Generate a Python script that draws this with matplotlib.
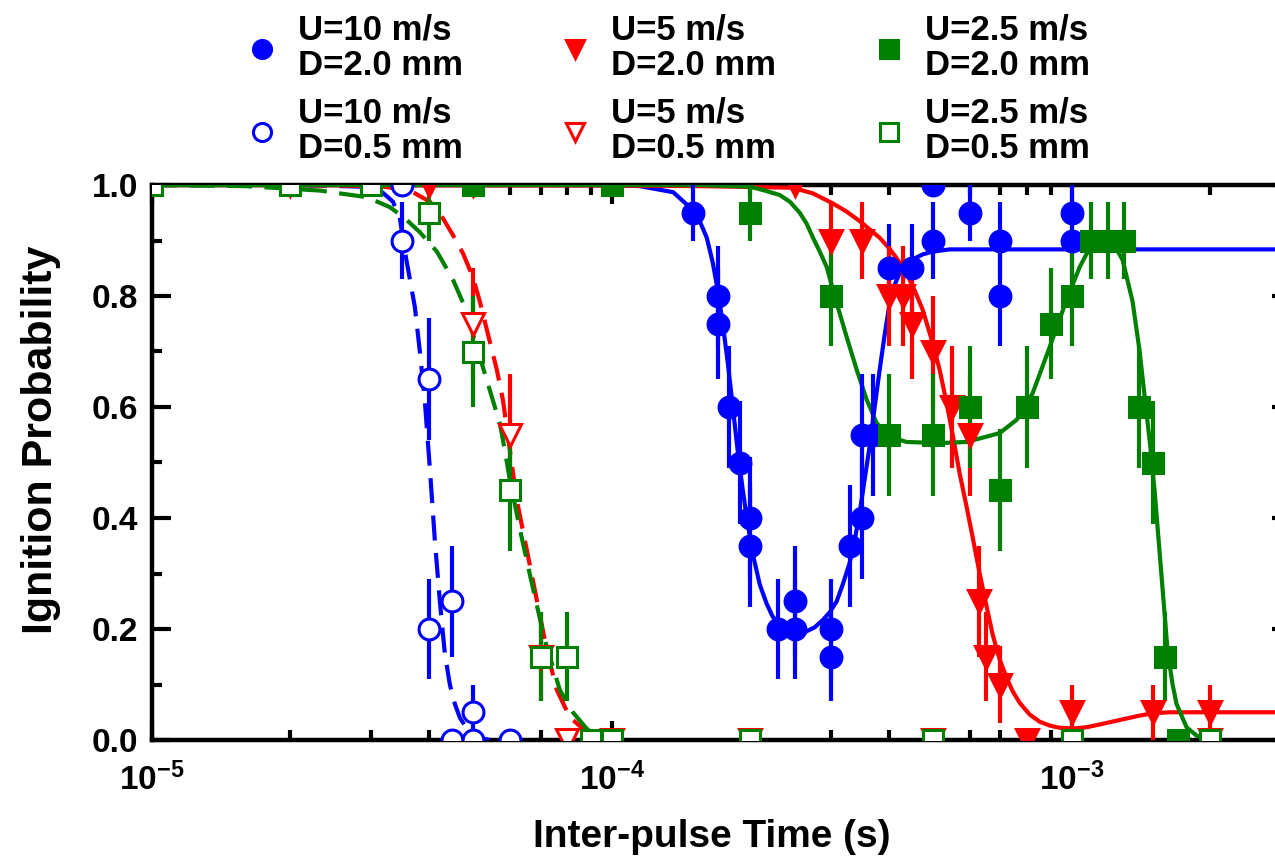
import numpy as np
import matplotlib.pyplot as plt
from matplotlib.lines import Line2D
from matplotlib.ticker import FixedLocator, NullFormatter, MultipleLocator

plt.rcParams['font.family'] = ['Liberation Sans', 'DejaVu Sans']
plt.rcParams['font.weight'] = 'bold'
plt.rcParams['mathtext.fontset'] = 'custom'
plt.rcParams['mathtext.rm'] = 'Liberation Sans:bold'
plt.rcParams['mathtext.bf'] = 'Liberation Sans:bold'

BLUE = '#0000ff'
RED = '#ff0000'
GREEN = '#008000'

# ============================================================
# measured points (inter-pulse time, probability, error)
# ============================================================
# U=10 m/s, D=2.0 mm
t_b20 = [1.5e-4, 1.7e-4, 1.7e-4, 1.8e-4, 1.9e-4, 2.0e-4, 2.0e-4, 2.3e-4, 2.5e-4, 2.5e-4,
         3.0e-4, 3.0e-4, 3.3e-4, 3.5e-4, 3.5e-4, 3.7e-4, 4.0e-4, 4.5e-4, 5.0e-4, 5.0e-4,
         6.0e-4, 7.0e-4, 7.0e-4, 1.0e-3, 1.0e-3]
p_b20 = [0.95, 0.80, 0.75, 0.60, 0.50, 0.40, 0.35, 0.20, 0.25, 0.20,
         0.20, 0.15, 0.35, 0.40, 0.55, 0.55, 0.85, 0.85, 0.90, 1.00,
         0.95, 0.90, 0.80, 0.95, 0.90]
e_b20 = [0.05, 0.09, 0.10, 0.11, 0.11, 0.11, 0.11, 0.09, 0.10, 0.09,
         0.09, 0.08, 0.11, 0.11, 0.11, 0.11, 0.08, 0.08, 0.07, 0.0,
         0.05, 0.07, 0.09, 0.05, 0.07]

# U=10 m/s, D=0.5 mm
t_b05 = [3.5e-5, 3.5e-5, 4.0e-5, 4.0e-5, 4.5e-5, 4.5e-5, 5.0e-5, 5.0e-5, 6.0e-5]
p_b05 = [1.0, 0.90, 0.65, 0.20, 0.25, 0.0, 0.05, 0.0, 0.0]
e_b05 = [0.0, 0.07, 0.11, 0.09, 0.10, 0.0, 0.05, 0.0, 0.0]

# U=5 m/s, D=2.0 mm
t_r20 = [2e-5, 4e-5, 5e-5, 2.5e-4, 3.0e-4, 3.5e-4, 4.0e-4, 4.3e-4, 4.5e-4, 5.0e-4,
         5.5e-4, 6.0e-4, 6.3e-4, 6.5e-4, 7.0e-4, 8.0e-4, 1.0e-3, 1.5e-3, 2.0e-3]
p_r20 = [1.0, 1.0, 1.0, 1.0, 0.90, 0.90, 0.80, 0.80, 0.75, 0.70,
         0.60, 0.55, 0.25, 0.15, 0.10, 0.0, 0.05, 0.05, 0.05]
e_r20 = [0.0, 0.0, 0.0, 0.0, 0.07, 0.07, 0.09, 0.09, 0.10, 0.10,
         0.11, 0.11, 0.10, 0.08, 0.07, 0.0, 0.05, 0.05, 0.05]

# U=5 m/s, D=0.5 mm
t_r05 = [5e-5, 6e-5, 7e-5, 8e-5, 1e-4, 2e-4, 5e-4, 2e-3]
p_r05 = [0.75, 0.55, 0.15, 0.0, 0.0, 0.0, 0.0, 0.0]
e_r05 = [0.10, 0.11, 0.08, 0.0, 0.0, 0.0, 0.0, 0.0]

# U=2.5 m/s, D=2.0 mm
t_g20 = [5e-5, 1e-4, 2e-4, 3e-4, 4e-4, 5e-4, 6e-4, 7e-4, 8e-4, 9e-4,
         1e-3, 1.1e-3, 1.2e-3, 1.3e-3, 1.4e-3, 1.5e-3, 1.6e-3, 1.7e-3]
p_g20 = [1.0, 1.0, 0.95, 0.80, 0.55, 0.55, 0.60, 0.45, 0.60, 0.75,
         0.80, 0.90, 0.90, 0.90, 0.60, 0.50, 0.15, 0.0]
e_g20 = [0.0, 0.0, 0.05, 0.09, 0.11, 0.11, 0.11, 0.11, 0.11, 0.10,
         0.09, 0.07, 0.07, 0.07, 0.11, 0.11, 0.08, 0.0]

# U=2.5 m/s, D=0.5 mm
t_g05 = [1e-5, 2e-5, 3e-5, 4e-5, 5e-5, 6e-5, 7e-5, 8e-5, 9e-5, 1e-4, 2e-4, 5e-4, 1e-3, 2e-3]
p_g05 = [1.0, 1.0, 1.0, 0.95, 0.70, 0.45, 0.15, 0.15, 0.0, 0.0, 0.0, 0.0, 0.0, 0.0]
e_g05 = [0.0, 0.0, 0.0, 0.05, 0.10, 0.11, 0.08, 0.08, 0.0, 0.0, 0.0, 0.0, 0.0, 0.0]

# ============================================================
# fitted curves
# ============================================================
tf_b20 = [1e-5, 1.0e-4, 1.15e-4, 1.36e-4, 1.500e-4, 1.553e-4, 1.609e-4, 1.658e-4, 1.700e-4,
          1.743e-4, 1.787e-4, 1.833e-4, 1.879e-4, 1.927e-4, 1.975e-4, 2.026e-4, 2.098e-4,
          2.173e-4, 2.239e-4, 2.342e-4, 2.438e-4, 2.563e-4, 2.654e-4, 2.762e-4, 2.875e-4,
          2.978e-4, 3.084e-4, 3.178e-4, 3.291e-4, 3.375e-4, 3.460e-4, 3.548e-4, 3.638e-4,
          3.730e-4, 3.824e-4, 3.921e-4, 4.020e-4, 4.122e-4, 4.227e-4, 4.378e-4, 4.511e-4,
          4.745e-4, 4.987e-4, 5.43e-4, 3e-3]
pf_b20 = [1.0, 1.0, 0.998, 0.987, 0.955, 0.935, 0.905, 0.86, 0.81,
          0.75, 0.68, 0.60, 0.52, 0.45, 0.39, 0.335, 0.28,
          0.245, 0.222, 0.205, 0.198, 0.195, 0.196, 0.203, 0.216,
          0.23, 0.25, 0.28, 0.319, 0.36, 0.41, 0.47, 0.53,
          0.60, 0.667, 0.73, 0.787, 0.82, 0.841, 0.857, 0.866,
          0.875, 0.880, 0.884, 0.884]

tf_b05 = [1e-5, 2.10e-5, 2.833e-5, 3.178e-5, 3.342e-5, 3.460e-5, 3.548e-5, 3.638e-5, 3.730e-5,
          3.824e-5, 3.921e-5, 4.020e-5, 4.122e-5, 4.227e-5, 4.335e-5, 4.444e-5, 4.557e-5,
          4.673e-5, 4.864e-5, 5.088e-5, 5.43e-5]
pf_b05 = [1.0, 1.0, 0.997, 0.986, 0.97, 0.94, 0.88, 0.83, 0.78,
          0.70, 0.61, 0.49, 0.36, 0.25, 0.155, 0.10, 0.065,
          0.04, 0.018, 0.005, 0.0]

tf_r20 = [1e-5, 9.42e-5, 1.553e-4, 2.475e-4, 2.735e-4, 3.022e-4, 3.242e-4, 3.460e-4, 3.638e-4,
          3.824e-4, 4.020e-4, 4.165e-4, 4.378e-4, 4.557e-4, 4.745e-4, 4.987e-4, 5.164e-4,
          5.349e-4, 5.512e-4, 5.709e-4, 5.911e-4, 6.093e-4, 6.310e-4, 6.535e-4, 6.734e-4,
          6.975e-4, 7.222e-4, 7.442e-4, 7.709e-4, 8.104e-4, 8.520e-4, 8.96e-4, 9.42e-4,
          1.015e-3, 1.078e-3, 1.151e-3, 1.272e-3, 1.406e-3, 1.500e-3, 1.634e-3, 1.778e-3, 3e-3]
pf_r20 = [1.0, 0.999, 0.998, 0.995, 0.985, 0.967, 0.952, 0.935, 0.92,
          0.905, 0.885, 0.868, 0.84, 0.81, 0.775, 0.715, 0.667,
          0.607, 0.55, 0.48, 0.42, 0.365, 0.30, 0.24, 0.19,
          0.145, 0.112, 0.088, 0.067, 0.046, 0.033, 0.026, 0.022,
          0.021, 0.023, 0.028, 0.036, 0.044, 0.048, 0.05, 0.05, 0.05]

tf_r05 = [1e-5, 2.1e-5, 3.130e-5, 3.638e-5, 4.020e-5, 4.292e-5, 4.511e-5, 4.745e-5, 4.987e-5,
          5.164e-5, 5.349e-5, 5.623e-5, 5.796e-5, 6.0e-5, 6.215e-5, 6.535e-5, 6.870e-5,
          7.222e-5, 7.593e-5, 8.104e-5, 8.826e-5, 9.42e-5, 1.041e-4]
pf_r05 = [1.0, 1.0, 0.998, 0.99, 0.97, 0.94, 0.91, 0.877, 0.834,
          0.79, 0.739, 0.667, 0.613, 0.523, 0.432, 0.342, 0.252,
          0.162, 0.09, 0.041, 0.014, 0.003, 0.0]

tf_g20 = [1e-5, 1.553e-4, 1.995e-4, 2.151e-4, 2.318e-4, 2.438e-4, 2.563e-4, 2.654e-4, 2.735e-4,
          2.833e-4, 2.934e-4, 3.084e-4, 3.242e-4, 3.409e-4, 3.584e-4, 3.768e-4, 4.020e-4,
          4.378e-4, 5.164e-4, 5.911e-4, 6.975e-4, 7.595e-4, 8.229e-4, 8.96e-4, 9.75e-4,
          1.041e-3, 1.094e-3, 1.151e-3, 1.186e-3, 1.228e-3, 1.291e-3, 1.357e-3, 1.406e-3,
          1.441e-3, 1.478e-3, 1.515e-3, 1.553e-3, 1.585e-3, 1.617e-3, 1.658e-3, 1.691e-3,
          1.778e-3, 1.869e-3, 1.995e-3]
pf_g20 = [1.0, 1.0, 0.997, 0.99, 0.982, 0.97, 0.95, 0.93, 0.906,
          0.88, 0.852, 0.787, 0.726, 0.667, 0.613, 0.571, 0.546,
          0.537, 0.535, 0.537, 0.553, 0.577, 0.625, 0.708, 0.793,
          0.852, 0.886, 0.897, 0.90, 0.897, 0.865, 0.79, 0.70,
          0.62, 0.54, 0.45, 0.34, 0.25, 0.16, 0.10, 0.065,
          0.023, 0.008, 0.0]

tf_g05 = [1e-5, 1.593e-5, 2.318e-5, 2.934e-5, 3.292e-5, 3.548e-5, 3.824e-5, 4.165e-5, 4.511e-5,
          4.792e-5, 5.037e-5, 5.43e-5, 5.709e-5, 5.80e-5, 6.0e-5, 6.31e-5, 6.668e-5,
          7.150e-5, 7.709e-5, 8.229e-5, 8.826e-5, 9.42e-5, 1.041e-4]
pf_g05 = [1.0, 0.998, 0.99, 0.978, 0.96, 0.94, 0.915, 0.88, 0.83,
          0.78, 0.72, 0.63, 0.57, 0.54, 0.47, 0.38, 0.29,
          0.18, 0.09, 0.05, 0.02, 0.005, 0.0]

labels = ['U=10 m/s\nD=2.0 mm', 'U=10 m/s\nD=0.5 mm',
          'U=5 m/s\nD=2.0 mm', 'U=5 m/s\nD=0.5 mm',
          'U=2.5 m/s\nD=2.0 mm', 'U=2.5 m/s\nD=0.5 mm']

# ============================================================
# figure
# ============================================================
fig = plt.figure(figsize=(12.75, 8.65), dpi=100)
ax = fig.add_axes([152 / 1275, 125 / 865, 1139 / 1275, 555 / 865])

LW = 3.0
dash = (0, (6, 3))

ax.plot(tf_b20, pf_b20, color=BLUE, lw=LW, zorder=3)
ax.plot(tf_b05, pf_b05, color=BLUE, lw=LW, ls=dash, zorder=3)
ax.plot(tf_r20, pf_r20, color=RED, lw=LW, zorder=3)
ax.plot(tf_r05, pf_r05, color=RED, lw=LW, ls=dash, zorder=3)
ax.plot(tf_g20, pf_g20, color=GREEN, lw=LW, zorder=3)
ax.plot(tf_g05, pf_g05, color=GREEN, lw=LW, ls=dash, zorder=3)

series = [
    (t_b20, p_b20, e_b20, 'o', BLUE, True, 15),
    (t_b05, p_b05, e_b05, 'o', BLUE, False, 15),
    (t_r20, p_r20, e_r20, 'v', RED, True, 16),
    (t_r05, p_r05, e_r05, 'v', RED, False, 16),
    (t_g20, p_g20, e_g20, 's', GREEN, True, 14),
    (t_g05, p_g05, e_g05, 's', GREEN, False, 14),
]
for t, p, e, m, c, filled, ms in series:
    ax.errorbar(t, p, yerr=e, fmt=m, color=c, ms=ms,
                mfc=c if filled else 'white', mec=c, mew=2.2,
                elinewidth=3, capsize=0, zorder=4)

ax.set_xscale('log')
ax.set_xlim(1e-5, 3e-3)
ax.set_ylim(0, 1.0)

ax.xaxis.set_major_locator(FixedLocator([1e-5, 1e-4, 1e-3]))
ax.set_xticklabels([r'$\mathbf{10^{-5}}$', r'$\mathbf{10^{-4}}$', r'$\mathbf{10^{-3}}$'])
minors = [k * 10.0 ** d for d in (-5, -4, -3) for k in range(2, 10)]
ax.xaxis.set_minor_locator(FixedLocator(minors))
ax.xaxis.set_minor_formatter(NullFormatter())
ax.yaxis.set_major_locator(MultipleLocator(0.2))
ax.yaxis.set_minor_locator(MultipleLocator(0.1))
ax.yaxis.set_major_formatter(plt.FuncFormatter(lambda v, _: f'{v:.1f}'))

ax.tick_params(which='both', direction='in', top=True, right=True, width=3)
ax.tick_params(which='major', length=14, labelsize=24)
ax.tick_params(axis='y', which='major', pad=10)
ax.tick_params(axis='x', which='major', pad=16)
ax.tick_params(which='minor', length=7)
for s in ax.spines.values():
    s.set_linewidth(3.2)

ax.set_xlabel('Inter-pulse Time (s)', fontsize=28, fontweight='bold')
ax.set_ylabel('Ignition Probability', fontsize=31, fontweight='bold')
ax.xaxis.set_label_coords(0.4917, -0.142)
ax.yaxis.set_label_coords(-0.080, 0.54)

# legend
handles = []
for t, p, e, m, c, filled, ms in series:
    handles.append(Line2D([], [], ls='none', marker=m, ms=13, color=c,
                          mfc=c if filled else 'white', mec=c, mew=2.2))
leg = fig.legend(handles, labels, ncol=3, loc='upper left',
                 bbox_to_anchor=(0.1835, 1.0), frameon=False,
                 prop={'weight': 'bold', 'size': 25},
                 handlelength=0.8, handletextpad=0.63, columnspacing=2.85,
                 labelspacing=0.41, borderaxespad=0.0)
for txt in leg.get_texts():
    txt.set_linespacing(1.1)

fig.savefig('out.png', dpi=100)
